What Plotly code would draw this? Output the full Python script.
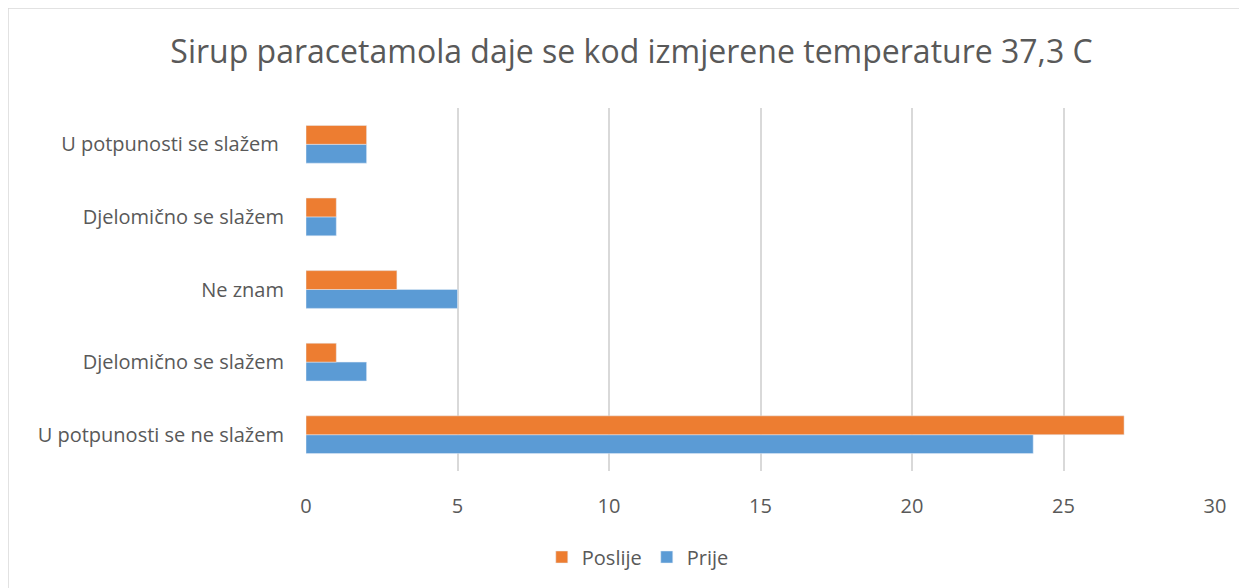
import plotly.graph_objects as go

# categories bottom -> top
categories = [
    "U potpunosti se ne slažem",
    "Djelomično se slažem",
    "Ne znam",
    "Djelomično se slažem\u200b",
    "U potpunosti se slažem ",
]
prije = [24, 2, 5, 1, 2]
poslije = [27, 1, 3, 1, 2]

TXT = "#595959"
FONT = "Open Sans"
W, H = 1247, 588
L, R, T, B = 298, 40, 100, 125
PW, PH = W - L - R, H - T - B

fig = go.Figure()
fig.add_trace(go.Bar(y=categories, x=prije, name="Prije", orientation="h",
                     marker=dict(color="#5B9BD5")))
fig.add_trace(go.Bar(y=categories, x=poslije, name="Poslije", orientation="h",
                     marker=dict(color="#ED7D31")))

fig.update_layout(
    width=W, height=H,
    margin=dict(l=L, r=R, t=T, b=B),
    paper_bgcolor="white", plot_bgcolor="white",
    barmode="group", bargap=0.48, bargroupgap=0,
    font=dict(family=FONT, color=TXT, size=20),
    title=dict(text="Sirup paracetamola daje se kod izmjerene temperature 37,3 C",
               x=0.5, xref="container", xanchor="center",
               y=1 - 44 / H, yref="container", yanchor="middle",
               font=dict(size=32, color=TXT, family=FONT)),
    xaxis=dict(range=[0, 30], dtick=5, showgrid=True, gridcolor="#D9D9D9", gridwidth=1.5,
               zeroline=False, showline=False, ticks="", ticklabelstandoff=21,
               tickfont=dict(size=20, color=TXT)),
    yaxis=dict(type="category", showgrid=False, zeroline=False, showline=False,
               ticks="", ticklabelstandoff=21, tickfont=dict(size=20, color=TXT)),
    legend=dict(orientation="h", traceorder="reversed", x=0.365, xanchor="center",
                y=-86 / PH, yanchor="middle", font=dict(size=20, color=TXT)),
    shapes=[dict(type="rect", xref="paper", yref="paper",
                 x0=-L / PW, x1=1 + R / PW, y0=-B / PH, y1=1 + T / PH,
                 line=dict(color="#D9D9D9", width=1.5), fillcolor="rgba(0,0,0,0)")],
)

fig.write_html("out.html")
